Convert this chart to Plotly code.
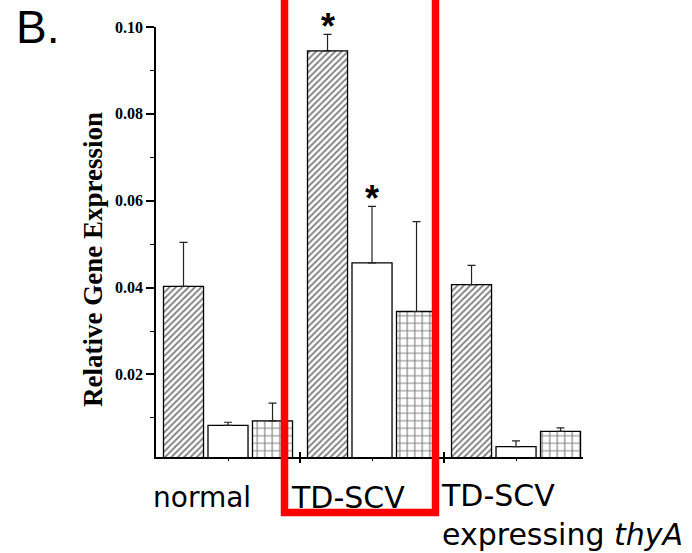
import plotly.graph_objects as go

# ---- data ----
groups = [0, 1, 2]  # normal, TD-SCV, TD-SCV expressing thyA
series_names = ["gene 1", "gene 2", "gene 3"]
hatched_vals = [0.0403, 0.0945, 0.0407]
hatched_err = [0.0101, 0.0038, 0.0044]
white_vals = [0.0083, 0.0457, 0.0034]
white_err = [0.0007, 0.0130, 0.0013]
grid_vals = [0.0093, 0.0345, 0.0069]
grid_err = [0.0041, 0.0207, 0.0008]
y_tick_vals = [0.02, 0.04, 0.06, 0.08, 0.10]
y_tick_text = ["0.02", "0.04", "0.06", "0.08", "0.10"]
star_marks = [(1, 0), (1, 1)]  # (group, series) with significance asterisk

# ---- layout constants ----
W, H = 692, 553
L, R, T, B = 156, 109, 27, 96
XR = [-0.5, 2.465]
YR = [0.001, 0.10]
slot = 0.309
bw = 0.278

series = [
    (hatched_vals, hatched_err, "/", 4.5, 0.4),
    (white_vals, white_err, "", 6, 0.2),
    (grid_vals, grid_err, "+", 7.5, 0.28),
]

fig = go.Figure()
for k, (vals, errs, shp, sz, sol) in enumerate(series):
    fig.add_trace(go.Bar(
        x=groups, y=vals, name=series_names[k],
        width=bw, offset=(k - 1) * slot - bw / 2,
        marker=dict(color="white",
                    line=dict(color="black", width=1.3),
                    pattern=dict(shape=shp, fgcolor="black", bgcolor="white",
                                 size=sz, solidity=sol)),
        error_y=dict(type="data", symmetric=False, array=errs,
                     arrayminus=[0] * len(errs), color="#222",
                     thickness=1.2, width=4),
        showlegend=False,
    ))

# invisible trace to hold the overlaying axis with inside ticks
fig.add_trace(go.Scatter(x=[0], y=[0.05], xaxis="x2", mode="markers",
                         marker=dict(opacity=0), showlegend=False,
                         hoverinfo="skip"))

all_vals = [hatched_vals, white_vals, grid_vals]
all_errs = [hatched_err, white_err, grid_err]
for g, s in star_marks:
    fig.add_annotation(x=g + (s - 1) * slot, y=all_vals[s][g] + all_errs[s][g],
                       xref="x", yref="y", text="<b>*</b>", showarrow=False,
                       yanchor="middle", yshift=8,
                       font=dict(family="Liberation Sans", size=36, color="black"))

pw = W - L - R
ph = H - T - B


def px_x(p):
    return (p - L) / pw


def px_y(p):
    return (H - B - p) / ph


cat_font = dict(family="Comic Sans MS, DejaVu Sans", size=28, color="black")
fig.add_annotation(xref="paper", yref="paper", x=px_x(151), y=px_y(497),
                   xanchor="left", yanchor="middle", text="normal",
                   showarrow=False, font=cat_font)
fig.add_annotation(xref="paper", yref="paper", x=px_x(289), y=px_y(497),
                   xanchor="left", yanchor="middle", text="TD-SCV",
                   showarrow=False, font=dict(cat_font, size=30))
fig.add_annotation(xref="paper", yref="paper", x=px_x(439), y=px_y(515),
                   xanchor="left", yanchor="middle", align="left",
                   text="TD-SCV<br>expressing <i>thyA</i>",
                   showarrow=False, font=dict(cat_font, size=30))

fig.add_annotation(xref="paper", yref="paper", x=px_x(93), y=px_y(260),
                   xanchor="center", yanchor="middle", textangle=-90,
                   text="<b>Relative Gene Expression</b>", showarrow=False,
                   font=dict(family="Liberation Serif", size=27, color="black"))

fig.add_annotation(xref="paper", yref="paper", x=px_x(14), y=px_y(27),
                   xanchor="left", yanchor="middle", text="B.",
                   showarrow=False,
                   font=dict(family="Liberation Sans", size=46, color="black"))

# red highlight box around the TD-SCV group
fig.add_shape(type="rect", xref="paper", yref="paper",
              x0=px_x(284.5), x1=px_x(435.5), y0=px_y(512.5), y1=px_y(-6),
              line=dict(color="#ff0000", width=7.5), fillcolor="rgba(0,0,0,0)")

fig.update_layout(
    width=W, height=H,
    margin=dict(l=L, r=R, t=T, b=B, pad=0),
    plot_bgcolor="white", paper_bgcolor="white",
    barmode="overlay",
    xaxis=dict(range=XR, showgrid=False, zeroline=False,
               showline=True, linecolor="black", linewidth=1.5,
               tickmode="array", tickvals=[0.5, 1.5], ticks="outside",
               ticklen=4, tickwidth=1.5, tickcolor="black",
               showticklabels=False,
               minor=dict(tickmode="array", tickvals=[0, 1, 2],
                          ticks="outside", ticklen=2, tickwidth=1.2,
                          tickcolor="black", showgrid=False)),
    xaxis2=dict(range=XR, overlaying="x", anchor="y", side="bottom",
                showgrid=False, zeroline=False, showline=False,
                tickmode="array", tickvals=[0.5, 1.5], ticks="inside",
                ticklen=5, tickwidth=1.5, tickcolor="black",
                showticklabels=False),
    yaxis=dict(range=YR, showgrid=False, zeroline=False,
               showline=True, linecolor="black", linewidth=1.5,
               tickmode="array", tickvals=y_tick_vals, ticktext=y_tick_text,
               ticks="outside", ticklen=8, tickwidth=1.5, tickcolor="black",
               tickfont=dict(family="Liberation Serif", size=16, color="black",
                             weight="bold"),
               minor=dict(tickmode="array",
                          tickvals=[0.01, 0.03, 0.05, 0.07, 0.09],
                          ticks="outside", ticklen=4, tickwidth=1.2,
                          tickcolor="black", showgrid=False)),
)

fig.write_html("out.html", config={"displayModeBar": False},
               post_script="document.body.style.margin='0px';"
                           "document.body.style.overflow='hidden';")
